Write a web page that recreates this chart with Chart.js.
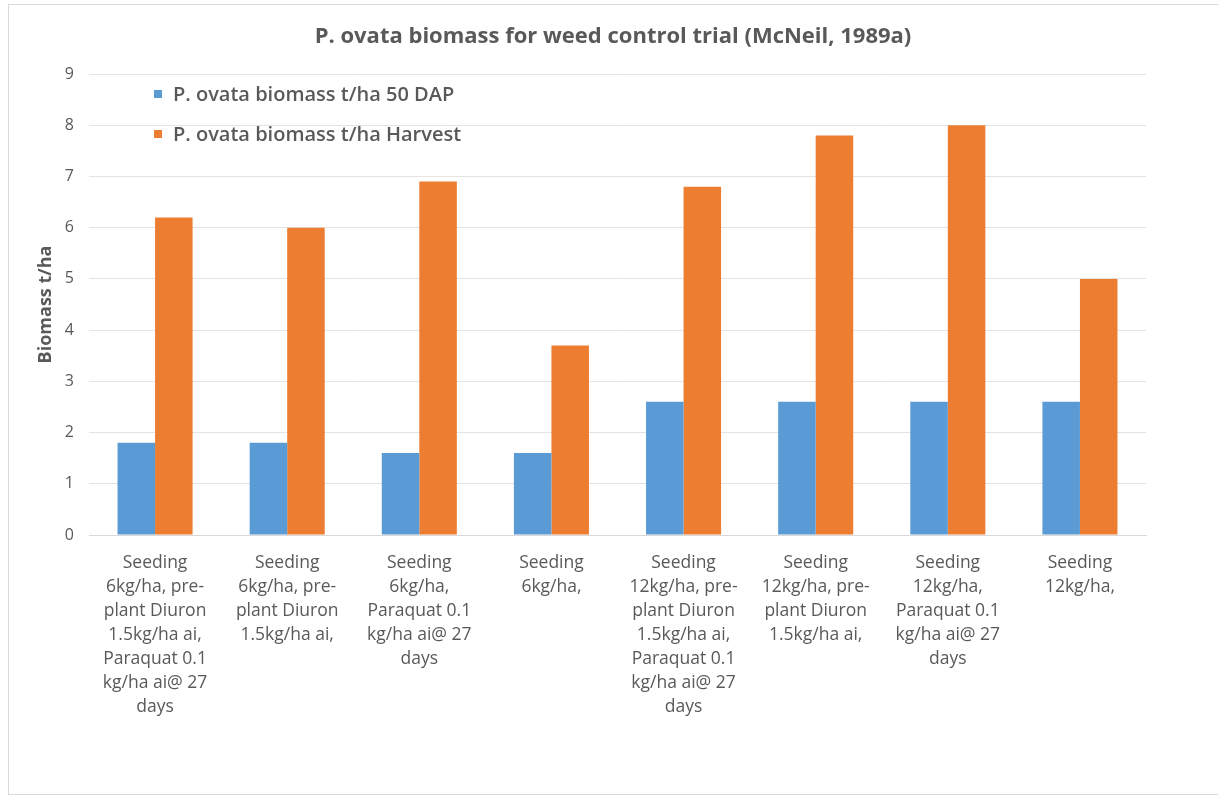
<!DOCTYPE html>
<html>
<head>
<meta charset="utf-8">
<script src="https://cdn.jsdelivr.net/npm/chart.js@4.4.1/dist/chart.umd.min.js"></script>
<style>
  html, body { margin: 0; padding: 0; background: #fff; }
  #frame {
    position: absolute; left: 8px; top: 4px; width: 1212px; height: 791px;
    border: 1px solid #d9d9d9; box-sizing: border-box; background: #fff;
  }
  #wrap { position: absolute; left: 0; top: 0; width: 1218px; height: 799px; }
</style>
</head>
<body>
<div id="frame"></div>
<div id="wrap"><canvas id="c" width="1218" height="799"></canvas></div>
<script>
// Treatments (one category per treatment, wrapped as printed under the axis)
const categories = [
  ["Seeding", "6kg/ha, pre-", "plant Diuron", "1.5kg/ha ai,", "Paraquat 0.1", "kg/ha ai@ 27", "days"],
  ["Seeding", "6kg/ha, pre-", "plant Diuron", "1.5kg/ha ai,"],
  ["Seeding", "6kg/ha,", "Paraquat 0.1", "kg/ha ai@ 27", "days"],
  ["Seeding", "6kg/ha,"],
  ["Seeding", "12kg/ha, pre-", "plant Diuron", "1.5kg/ha ai,", "Paraquat 0.1", "kg/ha ai@ 27", "days"],
  ["Seeding", "12kg/ha, pre-", "plant Diuron", "1.5kg/ha ai,"],
  ["Seeding", "12kg/ha,", "Paraquat 0.1", "kg/ha ai@ 27", "days"],
  ["Seeding", "12kg/ha,"]
];

// Biomass, t/ha
const biomass50DAP   = [1.8, 1.8, 1.6, 1.6, 2.6, 2.6, 2.6, 2.6];
const biomassHarvest = [6.2, 6.0, 6.9, 3.7, 6.8, 7.8, 8.0, 5.0];

const seriesNames = ["P. ovata biomass t/ha 50 DAP", "P. ovata biomass t/ha Harvest"];
const yTicks = [0, 1, 2, 3, 4, 5, 6, 7, 8, 9];

const FONT = "'Open Sans', Lato, sans-serif";
const GREY = "#595959";

// Legend drawn inside the plot area, stacked vertically at its top-left
const insideLegend = {
  id: "insideLegend",
  afterDraw(chart) {
    const { ctx, chartArea } = chart;
    const x0 = chartArea.left + 65;
    const y0 = chartArea.top + 20;
    ctx.save();
    ctx.font = "600 20px " + FONT;
    ctx.textBaseline = "middle";
    chart.data.datasets.forEach((ds, i) => {
      const y = y0 + i * 40;
      ctx.fillStyle = ds.backgroundColor;
      ctx.fillRect(x0, y - 4, 8, 8);
      ctx.fillStyle = GREY;
      ctx.fillText(ds.label, x0 + 19, y + 1);
    });
    ctx.restore();
  }
};

new Chart(document.getElementById("c"), {
  type: "bar",
  data: {
    labels: categories,
    datasets: [
      { label: seriesNames[0], data: biomass50DAP, backgroundColor: "#5B9BD5" },
      { label: seriesNames[1], data: biomassHarvest, backgroundColor: "#ED7D31" }
    ]
  },
  options: {
    responsive: false,
    animation: false,
    layout: { padding: { left: 8, right: 0, top: 0, bottom: 0 } },
    datasets: { bar: { categoryPercentage: 0.568, barPercentage: 1.0, borderWidth: 0 } },
    plugins: {
      legend: { display: false },
      tooltip: { enabled: false },
      title: {
        display: true,
        text: "P. ovata biomass for weed control trial (McNeil, 1989a)",
        color: GREY,
        font: { family: FONT, size: 22, weight: "bold", lineHeight: 1.2 },
        padding: { top: 24, bottom: 23.6 }
      }
    },
    scales: {
      x: {
        grid: { display: false, drawTicks: false },
        border: { color: "#d9d9d9" },
        ticks: {
          color: GREY,
          font: { family: FONT, size: 17.5, lineHeight: 24 / 17.5 },
          padding: 16,
          maxRotation: 0,
          autoSkip: false
        },
        afterFit(scale) { scale.height = 264; }
      },
      y: {
        min: 0, max: 9,
        afterBuildTicks(scale) { scale.ticks = yTicks.map(v => ({ value: v })); },
        grid: { color: "#e3e3e3", drawTicks: false },
        border: { display: false },
        ticks: { color: GREY, font: { family: FONT, size: 16 }, padding: 15 },
        title: {
          display: true,
          text: "Biomass t/ha",
          color: GREY,
          font: { family: FONT, size: 18, weight: "bold" },
          padding: { top: 27, bottom: 0 }
        },
        afterFit(scale) { scale.width = 81; }
      },
      // empty right-hand margin beside the plot
      yRight: {
        position: "right",
        display: true,
        grid: { display: false, drawTicks: false },
        border: { display: false },
        ticks: { display: false },
        afterFit(scale) { scale.width = 72; }
      }
    }
  },
  plugins: [insideLegend]
});
</script>
</body>
</html>
